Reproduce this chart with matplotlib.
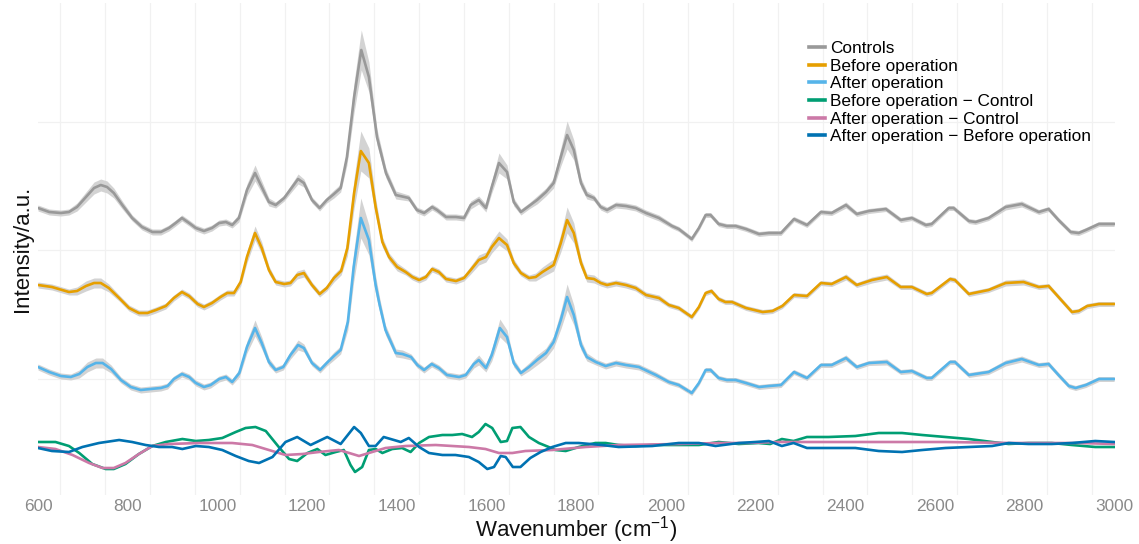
import numpy as np
import matplotlib.pyplot as plt

plt.rcParams['font.family'] = ['Liberation Sans', 'DejaVu Sans']
plt.rcParams['mathtext.fontset'] = 'custom'
plt.rcParams['mathtext.rm'] = 'Liberation Sans'

# mean spectra (stacked with offsets): (wavenumber, intensity, sd)
controls = [
    (600, 2.92, .03), (625, 2.88, .03), (651, 2.87, .03), (669, 2.88, .03), (687, 2.93, .04),
    (707, 3.03, .05), (725, 3.12, .06), (740, 3.15, .06), (754, 3.13, .06), (769, 3.07, .05),
    (788, 2.95, .04), (810, 2.82, .03), (832, 2.73, .03), (855, 2.68, .03), (874, 2.68, .03),
    (892, 2.72, .03), (907, 2.77, .03), (921, 2.82, .03), (937, 2.77, .03), (952, 2.72, .03),
    (970, 2.69, .03), (988, 2.72, .03), (1004, 2.77, .03), (1019, 2.78, .03), (1033, 2.75, .03),
    (1048, 2.82, .04), (1066, 3.10, .06), (1084, 3.27, .08), (1099, 3.13, .06), (1115, 2.98, .04),
    (1130, 2.95, .03), (1149, 3.02, .03), (1167, 3.13, .04), (1180, 3.21, .05), (1193, 3.17, .04),
    (1211, 3.00, .03), (1228, 2.92, .03), (1244, 3.00, .03), (1260, 3.06, .04), (1275, 3.12, .04),
    (1289, 3.43, .08), (1305, 4.03, .15), (1321, 4.50, .20), (1338, 4.23, .15), (1356, 3.63, .08),
    (1376, 3.27, .05), (1398, 3.05, .04), (1427, 3.02, .03), (1445, 2.90, .03), (1461, 2.87, .03),
    (1479, 2.93, .03), (1490, 2.90, .03), (1510, 2.83, .03), (1532, 2.83, .03), (1550, 2.82, .03),
    (1565, 2.95, .04), (1583, 3.00, .04), (1599, 2.92, .04), (1612, 3.13, .06), (1628, 3.37, .10),
    (1646, 3.28, .07), (1661, 2.98, .04), (1677, 2.88, .03), (1695, 2.94, .03), (1713, 3.00, .04),
    (1733, 3.08, .04), (1750, 3.17, .05), (1766, 3.43, .09), (1780, 3.65, .14), (1795, 3.50, .10),
    (1811, 3.17, .05), (1824, 3.05, .04), (1840, 3.02, .03), (1855, 2.93, .03), (1869, 2.90, .03),
    (1889, 2.95, .03), (1911, 2.94, .03), (1933, 2.92, .03), (1956, 2.87, .03), (1985, 2.82, .03),
    (2014, 2.74, .025), (2029, 2.71, .025), (2058, 2.61, .025), (2074, 2.72, .025), (2089, 2.85, .025),
    (2100, 2.85, .025), (2118, 2.76, .025), (2136, 2.74, .025), (2156, 2.74, .025), (2179, 2.71, .025),
    (2208, 2.66, .025), (2230, 2.67, .025), (2257, 2.67, .025), (2286, 2.81, .025), (2315, 2.75, .025),
    (2346, 2.88, .025), (2370, 2.87, .025), (2402, 2.95, .03), (2426, 2.86, .025), (2453, 2.89, .025),
    (2491, 2.91, .025), (2524, 2.80, .025), (2549, 2.82, .025), (2580, 2.75, .025), (2593, 2.76, .025),
    (2631, 2.92, .025), (2642, 2.92, .025), (2676, 2.79, .025), (2691, 2.78, .025), (2720, 2.82, .025),
    (2758, 2.93, .03), (2794, 2.96, .03), (2832, 2.88, .025), (2854, 2.91, .025), (2876, 2.80, .025),
    (2903, 2.68, .025), (2921, 2.67, .025), (2937, 2.70, .025), (2966, 2.76, .025), (3000, 2.76, .025),
]

before_op = [
    (600, 2.15, .03), (631, 2.13, .03), (669, 2.08, .03), (687, 2.09, .04), (707, 2.14, .05),
    (725, 2.17, .05), (740, 2.17, .05), (758, 2.12, .04), (781, 2.02, .03), (803, 1.92, .03),
    (825, 1.87, .03), (844, 1.87, .03), (863, 1.90, .03), (885, 1.94, .03), (903, 2.02, .03),
    (921, 2.08, .03), (937, 2.04, .03), (956, 1.96, .03), (970, 1.93, .03), (988, 1.97, .03),
    (1007, 2.03, .03), (1022, 2.07, .03), (1037, 2.07, .03), (1052, 2.18, .04), (1066, 2.43, .06),
    (1084, 2.67, .07), (1099, 2.52, .06), (1115, 2.30, .04), (1130, 2.18, .03), (1149, 2.16, .03),
    (1163, 2.17, .03), (1178, 2.25, .04), (1193, 2.27, .04), (1211, 2.15, .03), (1228, 2.06, .03),
    (1244, 2.12, .03), (1260, 2.22, .04), (1276, 2.29, .04), (1290, 2.52, .08), (1305, 3.07, .15),
    (1320, 3.49, .20), (1338, 3.37, .15), (1353, 2.93, .09), (1368, 2.58, .05), (1383, 2.43, .04),
    (1401, 2.33, .04), (1420, 2.28, .03), (1435, 2.23, .03), (1450, 2.20, .03), (1465, 2.23, .03),
    (1479, 2.31, .03), (1494, 2.28, .03), (1510, 2.21, .03), (1532, 2.19, .03), (1550, 2.22, .03),
    (1565, 2.30, .04), (1583, 2.40, .05), (1599, 2.43, .05), (1612, 2.53, .06), (1628, 2.62, .07),
    (1646, 2.55, .06), (1661, 2.37, .04), (1677, 2.27, .03), (1695, 2.22, .03), (1710, 2.23, .04),
    (1725, 2.28, .05), (1750, 2.35, .06), (1766, 2.57, .09), (1780, 2.80, .13), (1795, 2.67, .10),
    (1811, 2.37, .05), (1824, 2.22, .04), (1840, 2.21, .04), (1855, 2.17, .03), (1869, 2.15, .03),
    (1889, 2.17, .03), (1911, 2.15, .03), (1933, 2.12, .03), (1956, 2.05, .03), (1985, 2.02, .03),
    (2007, 1.95, .025), (2029, 1.92, .025), (2058, 1.83, .025), (2074, 1.93, .025), (2089, 2.07, .025),
    (2102, 2.09, .025), (2118, 2.01, .025), (2133, 1.98, .025), (2148, 1.98, .025), (2179, 1.92, .025),
    (2216, 1.88, .025), (2238, 1.89, .025), (2260, 1.94, .025), (2286, 2.05, .025), (2315, 2.04, .025),
    (2346, 2.17, .025), (2370, 2.16, .025), (2402, 2.23, .03), (2426, 2.15, .025), (2460, 2.20, .03),
    (2493, 2.23, .03), (2524, 2.13, .025), (2549, 2.13, .025), (2582, 2.06, .025), (2593, 2.07, .025),
    (2634, 2.21, .025), (2645, 2.20, .025), (2676, 2.06, .025), (2720, 2.10, .025), (2758, 2.17, .03),
    (2798, 2.18, .03), (2832, 2.13, .025), (2854, 2.14, .025), (2876, 2.03, .025), (2906, 1.88, .025),
    (2921, 1.89, .025), (2940, 1.94, .025), (2966, 1.96, .025), (3000, 1.96, .025),
]

after_op = [
    (600, 1.33, .03), (625, 1.28, .03), (651, 1.24, .03), (673, 1.23, .03), (692, 1.26, .04),
    (710, 1.33, .05), (729, 1.37, .05), (744, 1.37, .05), (763, 1.31, .04), (785, 1.20, .03),
    (807, 1.13, .03), (829, 1.10, .03), (851, 1.11, .03), (874, 1.12, .03), (889, 1.14, .03),
    (903, 1.21, .03), (921, 1.26, .03), (937, 1.23, .03), (952, 1.17, .03), (970, 1.13, .03),
    (985, 1.15, .03), (1004, 1.21, .03), (1019, 1.23, .03), (1033, 1.18, .03), (1049, 1.27, .04),
    (1066, 1.53, .06), (1084, 1.72, .08), (1099, 1.57, .06), (1115, 1.38, .04), (1130, 1.30, .03),
    (1147, 1.33, .03), (1163, 1.45, .04), (1180, 1.55, .05), (1193, 1.52, .04), (1211, 1.37, .03),
    (1229, 1.30, .03), (1244, 1.37, .03), (1260, 1.44, .04), (1275, 1.50, .04), (1291, 1.78, .08),
    (1304, 2.33, .15), (1320, 2.82, .20), (1338, 2.60, .15), (1353, 2.15, .09), (1362, 1.95, .07),
    (1375, 1.70, .05), (1398, 1.47, .04), (1413, 1.46, .04), (1432, 1.43, .03), (1446, 1.35, .03),
    (1461, 1.30, .03), (1478, 1.36, .03), (1494, 1.32, .03), (1512, 1.25, .03), (1539, 1.23, .03),
    (1554, 1.25, .03), (1572, 1.36, .04), (1583, 1.40, .05), (1599, 1.32, .04), (1612, 1.45, .06),
    (1630, 1.72, .09), (1646, 1.63, .07), (1661, 1.37, .04), (1677, 1.27, .03), (1695, 1.33, .04),
    (1713, 1.40, .05), (1733, 1.47, .05), (1750, 1.58, .06), (1766, 1.80, .09), (1780, 2.03, .13),
    (1795, 1.85, .10), (1811, 1.55, .05), (1824, 1.43, .04), (1844, 1.38, .03), (1866, 1.34, .03),
    (1889, 1.37, .03), (1911, 1.35, .03), (1940, 1.33, .03), (1978, 1.25, .03), (2007, 1.18, .025),
    (2029, 1.15, .025), (2058, 1.07, .025), (2074, 1.17, .025), (2089, 1.30, .025), (2100, 1.30, .025),
    (2118, 1.22, .025), (2136, 1.20, .025), (2156, 1.20, .025), (2179, 1.17, .025), (2208, 1.13, .025),
    (2230, 1.14, .025), (2257, 1.15, .025), (2286, 1.28, .025), (2315, 1.22, .025), (2346, 1.35, .025),
    (2370, 1.35, .025), (2402, 1.42, .03), (2426, 1.33, .025), (2453, 1.37, .025), (2493, 1.38, .03),
    (2524, 1.28, .025), (2549, 1.29, .025), (2582, 1.22, .025), (2593, 1.22, .025), (2634, 1.38, .025),
    (2645, 1.38, .025), (2676, 1.25, .025), (2720, 1.28, .025), (2758, 1.37, .03), (2794, 1.41, .03),
    (2832, 1.35, .025), (2854, 1.36, .025), (2876, 1.25, .025), (2899, 1.14, .025), (2914, 1.12, .025),
    (2937, 1.15, .025), (2966, 1.21, .025), (3000, 1.21, .025),
]

# difference spectra: (wavenumber, intensity)
before_minus_ctrl = [
    (600, 0.58), (639, 0.58), (669, 0.54), (692, 0.47), (721, 0.36), (751, 0.31), (769, 0.31),
    (795, 0.36), (825, 0.46), (855, 0.54), (885, 0.58), (922, 0.61), (952, 0.59), (981, 0.60),
    (1011, 0.62), (1041, 0.68), (1063, 0.72), (1085, 0.73), (1108, 0.69), (1137, 0.53), (1160, 0.41),
    (1178, 0.39), (1201, 0.47), (1223, 0.51), (1241, 0.45), (1264, 0.48), (1282, 0.50), (1297, 0.35),
    (1307, 0.28), (1323, 0.33), (1338, 0.50), (1353, 0.51), (1368, 0.47), (1390, 0.51), (1412, 0.52),
    (1431, 0.48), (1450, 0.57), (1472, 0.63), (1502, 0.65), (1524, 0.65), (1546, 0.66), (1568, 0.63),
    (1583, 0.68), (1598, 0.76), (1613, 0.72), (1632, 0.58), (1646, 0.59), (1658, 0.72), (1676, 0.73),
    (1695, 0.63), (1717, 0.57), (1739, 0.53), (1754, 0.50), (1777, 0.49), (1806, 0.53), (1843, 0.57),
    (1866, 0.57), (1895, 0.55), (1933, 0.54), (1970, 0.55), (2044, 0.55), (2074, 0.55), (2118, 0.58),
    (2163, 0.56), (2207, 0.57), (2233, 0.56), (2259, 0.61), (2285, 0.59), (2315, 0.63), (2363, 0.63),
    (2423, 0.64), (2475, 0.67), (2527, 0.67), (2572, 0.65), (2624, 0.63), (2676, 0.61), (2728, 0.58),
    (2765, 0.56), (2809, 0.57), (2861, 0.57), (2906, 0.55), (2958, 0.53), (3000, 0.53),
]

after_minus_ctrl = [
    (600, 0.53), (639, 0.51), (677, 0.45), (714, 0.37), (744, 0.32), (769, 0.32), (795, 0.37),
    (825, 0.46), (855, 0.54), (892, 0.56), (959, 0.57), (1033, 0.57), (1078, 0.55), (1115, 0.50),
    (1152, 0.45), (1190, 0.46), (1226, 0.48), (1271, 0.50), (1294, 0.47), (1316, 0.44), (1338, 0.47),
    (1375, 0.52), (1420, 0.54), (1487, 0.55), (1561, 0.53), (1598, 0.51), (1628, 0.47), (1658, 0.47),
    (1687, 0.49), (1747, 0.50), (1821, 0.53), (1895, 0.55), (2029, 0.56), (2118, 0.57), (2178, 0.57),
    (2252, 0.58), (2326, 0.58), (2475, 0.58), (2624, 0.58), (2772, 0.57), (2921, 0.57), (3000, 0.56),
]

after_minus_before = [
    (600, 0.52), (631, 0.49), (669, 0.48), (699, 0.53), (736, 0.57), (781, 0.60), (810, 0.58),
    (840, 0.55), (870, 0.53), (899, 0.53), (922, 0.51), (952, 0.54), (981, 0.53), (1011, 0.50),
    (1041, 0.44), (1070, 0.39), (1093, 0.37), (1123, 0.43), (1152, 0.58), (1178, 0.63), (1208, 0.55),
    (1245, 0.63), (1275, 0.56), (1305, 0.73), (1320, 0.67), (1338, 0.54), (1353, 0.54), (1371, 0.63),
    (1394, 0.60), (1409, 0.58), (1427, 0.62), (1450, 0.53), (1472, 0.47), (1502, 0.45), (1531, 0.45),
    (1561, 0.43), (1583, 0.38), (1602, 0.31), (1617, 0.33), (1632, 0.44), (1643, 0.43), (1659, 0.33),
    (1676, 0.33), (1698, 0.42), (1721, 0.48), (1747, 0.53), (1777, 0.57), (1806, 0.57), (1858, 0.55),
    (1895, 0.53), (1970, 0.54), (2029, 0.57), (2074, 0.57), (2111, 0.54), (2163, 0.57), (2200, 0.58),
    (2230, 0.59), (2259, 0.54), (2285, 0.57), (2315, 0.52), (2363, 0.52), (2423, 0.52), (2475, 0.49),
    (2527, 0.48), (2572, 0.50), (2624, 0.52), (2676, 0.53), (2728, 0.54), (2765, 0.57), (2809, 0.56),
    (2861, 0.56), (2906, 0.57), (2958, 0.59), (3000, 0.58),
]

spectra = [controls, before_op, after_op]
spectra_labels = ['Controls', 'Before operation', 'After operation']
spectra_colors = ['#999999', '#E69F00', '#56B4E9']

diffs = [before_minus_ctrl, after_minus_ctrl, after_minus_before]
diff_labels = ['Before operation \u2212 Control', 'After operation \u2212 Control',
               'After operation \u2212 Before operation']
diff_colors = ['#009E73', '#CC79A7', '#0072B2']

fig = plt.figure(figsize=(11.39, 5.44), dpi=100)
ax = fig.add_axes([38 / 1139, 49 / 544, 1077 / 1139, 492 / 544])

handles = []
for data, lab, col in zip(spectra, spectra_labels, spectra_colors):
    arr = np.array(data)
    ax.fill_between(arr[:, 0], arr[:, 1] - arr[:, 2], arr[:, 1] + arr[:, 2],
                    color='#d3d3d3', lw=0, zorder=2)
    h, = ax.plot(arr[:, 0], arr[:, 1], color=col, lw=1.9, label=lab, zorder=3,
                 solid_joinstyle='round')
    handles.append(h)

for data, lab, col in zip(diffs, diff_labels, diff_colors):
    arr = np.array(data)
    h, = ax.plot(arr[:, 0], arr[:, 1], color=col, lw=1.9, label=lab, zorder=3,
                 solid_joinstyle='round')
    handles.append(h)

ax.set_xlim(600, 3002)
ax.set_ylim(0.05, 4.97)

ax.set_xticks(np.arange(600, 3001, 200))
ax.set_xticks(np.arange(650, 3000, 100), minor=True)
ax.set_yticks([])
ax.set_yticks([1.21, 2.50, 3.78], minor=True)
ax.grid(which='minor', color='#f1f1f1', lw=0.9, zorder=0)
ax.tick_params(which='both', length=0)
ax.tick_params(axis='x', labelsize=12.4, labelcolor='#8a8a8a', pad=3)
for s in ax.spines.values():
    s.set_visible(False)

ax.set_xlabel('Wavenumber (cm$^{\\mathregular{-1}}$)', fontsize=16, color='#111111', labelpad=0)
ax.set_ylabel('Intensity/a.u.', fontsize=16, color='#111111', labelpad=0.5)

leg = ax.legend(handles=handles, loc='upper left', bbox_to_anchor=(809 / 1139, 1 - 41 / 544),
                bbox_transform=fig.transFigure, frameon=False, fontsize=12.4,
                handlelength=0.9, handletextpad=0.3, labelspacing=0.15,
                borderpad=0, borderaxespad=0)
for line in leg.get_lines():
    line.set_linewidth(2.6)

fig.savefig('out.png', dpi=100)
